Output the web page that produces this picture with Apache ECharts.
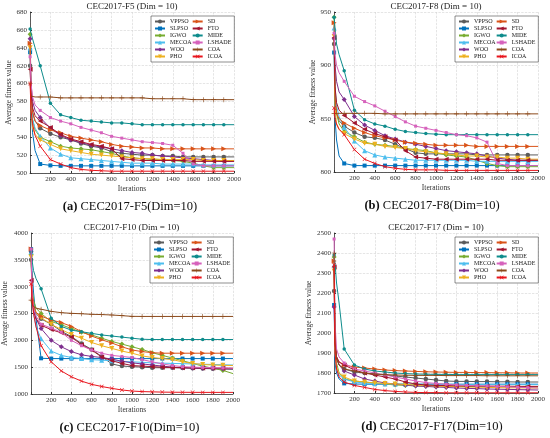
<!DOCTYPE html>
<html>
<head>
<meta charset="utf-8">
<script src="https://cdn.jsdelivr.net/npm/echarts@6/dist/echarts.min.js"></script>
<style>
  html, body { margin: 0; padding: 0; background: #fff; }
  #main { width: 550px; height: 438px; }
</style>
</head>
<body>
<div id="main"></div>
<script>
// iterations sampled (markers drawn at 1 and every 100 up to 1900)
var iters = [1,10,25,50,100,200,300,400,500,600,700,800,900,1000,1100,1200,1300,1400,1500,1600,1700,1800,1900,2000];
var names = ['VPPSO','SLPSO','IGWO','MECOA','WOO','PHO','SD','FTO','MIDE','LSHADE','COA','ICOA'];

// CEC2017-F5
var f5 = [
  [620,585,568,558,550,544,540,537,533,530,528,524,522,521,520,520,519,519,518,518,518,518,518,518],
  [635,580,545,525,510,508.5,508,508,508,508,508,508,508,508,508,508,508,508,508,508,508,508,508,508],
  [655,590,560,548,540,535,530,528,527,526,524,522,519,517,516,515,515,514,513,511,508,506,506,506],
  [640,580,560,550,541,528,521,517,516,515,514,513,512,511,511,511,510,510,510,510,509,509,509,509],
  [650,600,580,570,562,550,542,537,534,531,529,527,525,523,522,520,519,518,517,516,515,514,513,513],
  [640,570,550,543,537,532,527,525,523,521,520,519,518,517,516,516,515,515,515,515,514,514,514,514],
  [645,590,568,558,553,548,545,541,539,537,535,532,530,529,528,528,527,527,527,527,527,527,527,527],
  [616,590,573,564,558,551,543,538,535,532,530,527,516,515,514,514,514,514,514,513,513,513,513,513],
  [661,657,650,640,620,578,565,562,559,558,557,556,556,555,554,554,554,554,554,554,554,554,554,554],
  [630,600,585,576,570,562,558,555,551,548,545,541,539,537,535,534,533,531,522,510,508,508,508,508],
  [600,586,585,585,585,585,584,584,584,584,584,584,584,584,584,583,583,583,583,582,582,582,582,582],
  [600,570,555,542,530,515,510,506,504,503,502.5,502,502,502,502,502,502,502,502,502,502,502,502,502]
];
// CEC2017-F8
var f8 = [
  [920,870,855,848,843,837,833,832,830,826,822,818,817,817,817,817,817,816,816,816,816,816,816,816],
  [912,850,830,815,808,806,806,806,806,806,806,806,806,806,806,806,806,806,806,806,806,806,806,806],
  [945,880,855,845,838,833,828,826,825,824,822,821,820,818,816,815,814,811,808,806,805,805,805,805],
  [935,880,862,852,842,829,820,816,814,813,812,811,811,811,811,811,811,810,810,810,810,810,810,810],
  [925,900,885,875,868,852,844,839,834,831,828,826,824,822,820,819,818,817,815,813,812,811,811,811],
  [927,860,845,840,836,831,827,826,824,823,822,820,819,818,817,816,815,815,814,814,813,813,812,812],
  [940,870,855,850,846,841,837,834,832,830,828,827,826,825,825,825,825,824,824,824,824,824,824,824],
  [926,880,865,858,853,846,840,836,833,830,820,814,813,812,812,812,812,812,812,811,811,811,811,811],
  [945,935,920,910,895,858,849,845,843,840,838,837,836,835.5,835,835,835,835,835,835,835,835,835,835],
  [930,910,900,893,885,871,866,862,857,852,847,843,841,839,837,835,834,832,828,808,806,806,806,806],
  [855,855,855,855,855,855,855,855,854.5,854.5,854.5,854.5,854.5,854.5,854.5,854.5,854.5,854.5,854.5,854.5,854.5,854.5,854.5,854.5],
  [860,850,845,840,835,821,812,808,805,803.5,802.5,802,802,802,801.5,801.5,801.5,801.5,801.5,801.5,801.5,801.5,801.5,801.5]
];
// CEC2017-F10
var f10 = [
  [3500,2900,2650,2500,2400,2300,2170,2070,1940,1830,1700,1560,1520,1510,1500,1490,1490,1490,1485,1480,1475,1470,1465,1460],
  [3700,3300,2900,2400,1665,1660,1660,1660,1660,1660,1660,1660,1660,1660,1660,1660,1660,1660,1660,1660,1660,1660,1660,1660],
  [3600,3000,2750,2600,2500,2350,2290,2220,2150,2100,2040,1980,1930,1880,1830,1770,1720,1670,1620,1570,1520,1480,1440,1380],
  [3650,2900,2500,2250,2030,1800,1720,1680,1660,1640,1630,1620,1610,1600,1590,1580,1575,1570,1565,1560,1555,1550,1545,1540],
  [3650,2900,2600,2400,2220,2000,1880,1790,1730,1700,1680,1650,1610,1580,1560,1540,1520,1500,1490,1485,1480,1475,1470,1470],
  [3550,2900,2650,2520,2420,2300,2200,2110,2040,1960,1900,1850,1800,1760,1710,1680,1660,1640,1600,1570,1550,1540,1535,1530],
  [3700,2900,2650,2520,2450,2380,2330,2260,2160,2080,2010,1950,1880,1820,1790,1770,1760,1760,1760,1760,1760,1760,1760,1760],
  [3120,2800,2550,2400,2280,2200,2140,2060,1920,1820,1690,1620,1570,1530,1520,1510,1500,1495,1490,1490,1485,1485,1480,1480],
  [3650,3500,3300,3150,2960,2410,2260,2190,2160,2130,2100,2080,2060,2040,2020,2015,2015,2015,2015,2015,2015,2015,2015,2015],
  [3700,2900,2600,2450,2300,2230,2150,2000,1900,1820,1760,1720,1700,1680,1640,1600,1560,1530,1510,1500,1495,1490,1485,1480],
  [2750,2680,2630,2600,2580,2540,2515,2503,2495,2485,2480,2472,2460,2447,2445,2445,2445,2445,2445,2445,2445,2445,2445,2445],
  [3050,2800,2500,2250,1900,1600,1430,1320,1240,1180,1140,1105,1075,1055,1045,1040,1035,1033,1032,1031,1030,1030,1030,1030]
];
// CEC2017-F17
var f17 = [
  [2210,1950,1880,1840,1820,1805,1800,1795,1790,1785,1780,1775,1770,1765,1760,1758,1758,1757,1757,1756,1756,1755,1755,1755],
  [2140,1850,1800,1770,1748,1745,1744,1744,1744,1744,1744,1744,1744,1744,1744,1744,1744,1744,1744,1744,1744,1744,1744,1744],
  [2380,1950,1850,1800,1770,1760,1755,1750,1745,1740,1738,1736,1735,1735,1734,1734,1733,1733,1732,1732,1731,1731,1730,1730],
  [2340,1900,1820,1790,1770,1755,1750,1748,1746,1745,1745,1744,1744,1743,1743,1743,1742,1742,1742,1742,1742,1742,1742,1742],
  [2130,1950,1880,1840,1810,1790,1770,1760,1750,1745,1740,1735,1733,1730,1728,1725,1723,1722,1720,1719,1718,1717,1716,1715],
  [2310,1900,1830,1800,1780,1760,1755,1750,1748,1745,1743,1740,1738,1735,1733,1732,1730,1729,1728,1727,1726,1726,1725,1725],
  [2360,1950,1880,1855,1840,1830,1825,1820,1815,1812,1810,1808,1806,1805,1804,1803,1803,1802,1802,1801,1801,1800,1800,1800],
  [2330,1950,1880,1855,1840,1815,1800,1790,1780,1770,1755,1745,1740,1738,1737,1736,1735,1735,1734,1734,1734,1733,1733,1733],
  [2390,2350,2250,2150,1920,1840,1820,1810,1805,1800,1797,1795,1794,1793,1793,1792,1792,1792,1792,1792,1792,1792,1792,1792],
  [2470,2050,1920,1880,1850,1820,1810,1800,1790,1780,1770,1760,1752,1748,1744,1740,1738,1736,1735,1733,1731,1729,1727,1725],
  [2400,1950,1870,1840,1820,1810,1800,1795,1792,1790,1789,1788,1788,1788,1787,1787,1787,1787,1786,1786,1786,1786,1786,1786],
  [2340,1900,1820,1780,1755,1738,1728,1718,1712,1708,1705,1703,1702,1702,1701,1701,1701,1701,1701,1701,1701,1701,1701,1701]
];

var panelData = [f5, f8, f10, f17];
var panelTitles = ['CEC2017-F5 (Dim = 10)','CEC2017-F8 (Dim = 10)','CEC2017-F10 (Dim = 10)','CEC2017-F17 (Dim = 10)'];
var captionTags = ['(a)','(b)','(c)','(d)'];
var captionTexts = ['CEC2017-F5(Dim=10)','CEC2017-F8(Dim=10)','CEC2017-F10(Dim=10)','CEC2017-F17(Dim=10)'];
var yMin = [500, 800, 1000, 1700];
var yMax = [680, 950, 4000, 2500];
var yStep = [20, 50, 500, 100];

var colors = ['#5b5b5b','#0072BD','#77AC30','#4DBEEE','#7E2F8E','#EDB120','#D95319','#A2142F','#0E8C8C','#D662BC','#8B4A1C','#E8141C'];
var PLUS = 'path://M4.4,0H5.6V4.4H10V5.6H5.6V10H4.4V5.6H0V4.4H4.4Z';
var CROSS = 'path://M1,0L5,4L9,0L10,1L6,5L10,9L9,10L5,6L1,10L0,9L4,5L0,1Z';
var symbols = ['circle','rect','diamond','triangle','diamond','triangle','triangle','triangle','circle','rect',PLUS,CROSS];
var rotates = [0,0,0,0,0,180,-90,90,0,0,0,0];
var sizes = [4.5,4,5,5,5,5,5,5,3.5,3,5,4];

// layout of the four subplots
var grids = [
  {left: 30, top: 12, width: 204, height: 161},
  {left: 334, top: 12, width: 204, height: 160},
  {left: 30, top: 233, width: 203, height: 161},
  {left: 334, top: 233, width: 204, height: 160}
];
var yNameGap = [16, 17, 22, 21];

var font = 'Liberation Serif';
var option = {
  animation: false,
  backgroundColor: '#fff',
  title: [],
  legend: [],
  grid: [],
  xAxis: [],
  yAxis: [],
  series: []
};

for (var p = 0; p < 4; p++) {
  var g = grids[p];
  option.grid.push({left: g.left, top: g.top, width: g.width, height: g.height, containLabel: false});
  option.title.push({
    text: panelTitles[p],
    left: g.left + g.width / 2,
    top: g.top - 10,
    textAlign: 'center',
    padding: 0,
    textStyle: {fontFamily: font, fontSize: 9, fontWeight: 'normal', color: '#222'}
  });
  option.title.push({
    text: '{b|' + captionTags[p] + '} ' + captionTexts[p],
    left: g.left + g.width / 2 + (p % 2 ? -4 : -2),
    top: g.top + g.height + 27,
    textAlign: 'center',
    padding: 0,
    textStyle: {
      fontFamily: font, fontSize: 12.5, fontWeight: 'normal', color: '#111',
      rich: {b: {fontFamily: font, fontSize: 12.5, fontWeight: 'bold', color: '#111'}}
    }
  });
  option.legend.push({
    data: names,
    orient: 'vertical',
    left: g.left + g.width - 83,
    top: g.top + 4,
    height: 42,
    itemWidth: 10,
    itemHeight: 5,
    itemGap: 0,
    itemTextGap: 3,
    padding: [2, 3, 2, 3],
    backgroundColor: '#fff',
    borderColor: '#444',
    borderWidth: 0.6,
    borderRadius: 0,
    textStyle: {fontFamily: font, fontSize: 6, lineHeight: 7, color: '#222'}
  });
  option.xAxis.push({
    type: 'value',
    gridIndex: p,
    min: 0,
    max: 2000,
    interval: 200,
    name: 'Iterations',
    nameLocation: 'middle',
    nameGap: 12,
    nameTextStyle: {fontFamily: font, fontSize: 7.5, color: '#333'},
    axisLine: {lineStyle: {color: '#333', width: 0.8}},
    axisTick: {inside: true, length: 2, lineStyle: {color: '#333'}},
    axisLabel: {
      fontFamily: font, fontSize: 7, color: '#333', margin: 3,
      formatter: function (v) { return v === 0 ? '' : String(v); }
    },
    splitLine: {show: true, lineStyle: {type: 'dashed', color: '#d4d4d4', width: 0.6}}
  });
  option.yAxis.push({
    type: 'value',
    gridIndex: p,
    min: yMin[p],
    max: yMax[p],
    interval: yStep[p],
    name: 'Average fitness value',
    nameLocation: 'middle',
    nameGap: yNameGap[p],
    nameTextStyle: {fontFamily: font, fontSize: 7.5, color: '#333'},
    axisLine: {show: true, lineStyle: {color: '#333', width: 0.8}},
    axisTick: {show: true, inside: true, length: 2, lineStyle: {color: '#333'}},
    axisLabel: {
      fontFamily: font, fontSize: 7, color: '#333', margin: 3,
      formatter: function (v) { return String(v); }
    },
    splitLine: {show: true, lineStyle: {type: 'dashed', color: '#d4d4d4', width: 0.6}}
  });

  var vals = panelData[p];
  for (var s = 0; s < names.length; s++) {
    var pts = iters.map(function (x, i) {
      var marked = x === 1 || (x % 100 === 0 && x < 2000);
      var d = {value: [x, vals[s][i]]};
      if (!marked) d.symbol = 'none';
      return d;
    });
    option.series.push({
      name: names[s],
      type: 'line',
      xAxisIndex: p,
      yAxisIndex: p,
      data: pts,
      color: colors[s],
      symbol: symbols[s],
      symbolRotate: rotates[s],
      symbolSize: sizes[s],
      showAllSymbol: true,
      lineStyle: {width: 1, color: colors[s]},
      itemStyle: {color: colors[s]},
      z: 2 + s
    });
  }
}

var myChart = echarts.init(document.getElementById('main'));
myChart.setOption(option);
window.onresize = function () {
  myChart.resize();
};
</script>
</body>
</html>
